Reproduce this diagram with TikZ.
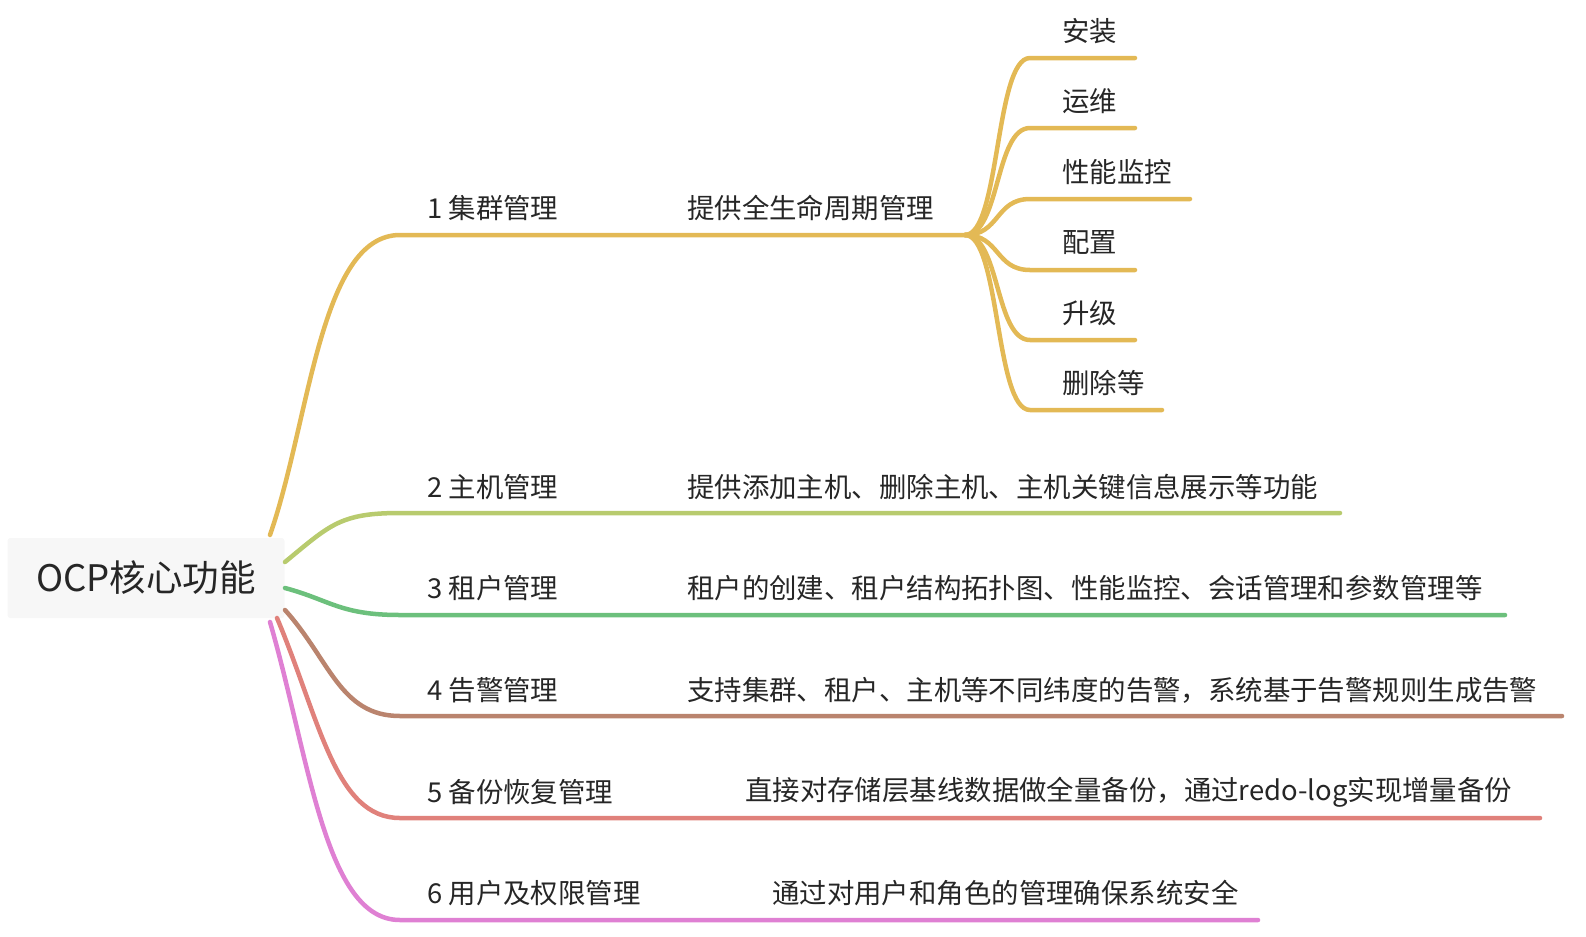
\documentclass[tikz,border=0pt]{standalone}
\usepackage{fontspec}
\setmainfont{Noto Sans CJK SC}
\definecolor{cyellow}{HTML}{E3B955}
\definecolor{clime}{HTML}{B8CB6E}
\definecolor{cgreen}{HTML}{6CC07C}
\definecolor{cbrown}{HTML}{BA846E}
\definecolor{csalmon}{HTML}{E0817B}
\definecolor{cpink}{HTML}{DF80D3}
\definecolor{rootfill}{HTML}{F7F7F7}
\tikzset{
  branch/.style={line width=3.2pt, line cap=round},
  txt/.style={anchor=west, font=\fontsize{19.5}{22}\selectfont, text=black!85, inner sep=0pt},
  rootbox/.style={fill=rootfill, rounded corners=2pt, minimum width=277*0.025cm, minimum height=80*0.025cm, font=\fontsize{26}{30}\selectfont, text=black!85}
}
\begin{document}
\begin{tikzpicture}[x=0.025cm,y=-0.025cm]
\useasboundingbox (0,0) rectangle (1586,936);

\node (root) [rootbox] at (146,578) {OCP核心功能};

% branch 1
\coordinate (b1s) at (270,535);
\coordinate (b1a) at (400,235);
\coordinate (b1e) at (965,235);
\draw [branch, cyellow] (b1s) .. controls (310,420) and (320,235) .. (b1a) -- (b1e);
\node (l1) [txt] at (427,208) {1 集群管理};
\node (d1) [txt] at (687,208) {提供全生命周期管理};
\foreach \y/\len/\t [count=\i] in {58/1135/安装, 128/1135/运维, 199/1190/性能监控, 270/1135/配置, 340/1135/升级, 410/1162/删除等} {
  \coordinate (s\i) at (1030,\y);
  \draw [branch, cyellow] (b1e) .. controls (1000,235) and (995,\y) .. (s\i) -- (\len,\y);
  \node (t\i) [txt] at (1062,\y-27) {\t};
}

% branch 2
\coordinate (b2s) at (285,562);
\coordinate (b2a) at (400,513);
\draw [branch, clime] (b2s) .. controls (330,525) and (340,513) .. (b2a) -- (1340,513);
\node (l2) [txt] at (427,487) {2 主机管理};
\node (d2) [txt] at (687,487) {提供添加主机、删除主机、主机关键信息展示等功能};

% branch 3
\coordinate (b3s) at (285,588);
\coordinate (b3a) at (400,615);
\draw [branch, cgreen] (b3s) .. controls (330,600) and (340,615) .. (b3a) -- (1505,615);
\node (l3) [txt] at (427,588) {3 租户管理};
\node (d3) [txt] at (687,588) {租户的创建、租户结构拓扑图、性能监控、会话管理和参数管理等};

% branch 4
\coordinate (b4s) at (285,610);
\coordinate (b4a) at (400,716);
\draw [branch, cbrown] (b4s) .. controls (330,660) and (340,716) .. (b4a) -- (1562,716);
\node (l4) [txt] at (427,690) {4 告警管理};
\node (d4) [txt] at (687,690) {支持集群、租户、主机等不同纬度的告警，系统基于告警规则生成告警};

% branch 5
\coordinate (b5s) at (277,618);
\coordinate (b5a) at (400,818);
\draw [branch, csalmon] (b5s) .. controls (320,720) and (335,818) .. (b5a) -- (1540,818);
\node (l5) [txt] at (427,792) {5 备份恢复管理};
\node (d5) [txt] at (745,792) {直接对存储层基线数据做全量备份，通过redo-log实现增量备份};

% branch 6
\coordinate (b6s) at (270,622);
\coordinate (b6a) at (400,920);
\draw [branch, cpink] (b6s) .. controls (310,760) and (325,920) .. (b6a) -- (1258,920);
\node (l6) [txt] at (427,893) {6 用户及权限管理};
\node (d6) [txt] at (772,893) {通过对用户和角色的管理确保系统安全};
\end{tikzpicture}
\end{document}
